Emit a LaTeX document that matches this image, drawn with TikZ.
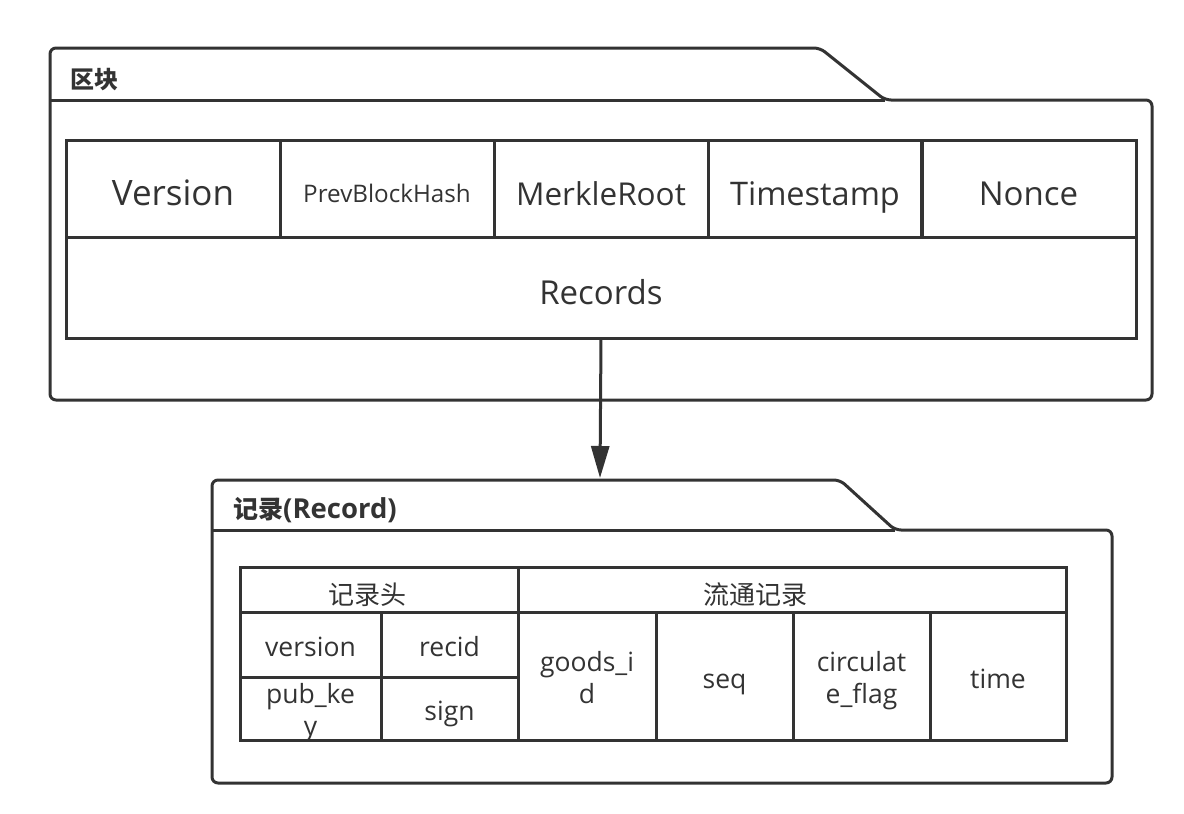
\documentclass[tikz,border=0pt]{standalone}
\usepackage{fontspec}
\setmainfont{Open Sans}
\newfontfamily\cjk{Noto Sans CJK SC}
\usetikzlibrary{arrows.meta}
\definecolor{ink}{HTML}{333333}
\begin{document}
\begin{tikzpicture}[x=1pt,y=-1pt,
  frame/.style={draw=ink, line width=3pt, line join=round, rounded corners=6pt},
  cell/.style={draw=ink, line width=3pt, inner sep=0pt, outer sep=0pt, anchor=north west, text=ink, align=center},
  big/.style={text height=36pt, text depth=2pt},
  small/.style={font=\fontsize{26.5}{32}\selectfont, text height=26pt, text depth=2pt},
  twoline/.style={font=\fontsize{26.5}{32}\selectfont, text height=56pt, text depth=2pt},
  headtxt/.style={font=\fontsize{26}{32}\selectfont\cjk, text height=31pt, text depth=2pt},
  ttl/.style={anchor=west, text=ink, inner sep=0pt, font=\bfseries},
  link/.style={draw=ink, line width=3pt, -{Triangle[length=32pt,width=18pt]}}]
\useasboundingbox (0,0) rectangle (1184,814);
% ---- block folder ----
\draw[frame] (50,400) -- (50,48) -- (820,48) -- (885,100) -- (1152,100) -- (1152,400) -- cycle;
\draw[draw=ink, line width=3pt] (50,100) -- (885,100);
\node[ttl] (blocklabel) at (70,80) {\fontsize{24}{28}\selectfont\cjk 区块};
\node[cell, big, minimum width=214pt, minimum height=97pt, font=\fontsize{35}{40}\selectfont] (ver) at (66,140) {Version};
\node[cell, minimum width=214pt, minimum height=97pt, font=\fontsize{24.2}{28}\selectfont, text height=29pt, text depth=2pt] (prev) at (280,140) {PrevBlockHash};
\node[cell, big, minimum width=214pt, minimum height=97pt, font=\fontsize{31.5}{40}\selectfont] (merkle) at (494,140) {MerkleRoot};
\node[cell, big, minimum width=214pt, minimum height=97pt, font=\fontsize{32.5}{40}\selectfont] (ts) at (708,140) {Timestamp};
\node[cell, big, minimum width=215pt, minimum height=97pt, font=\fontsize{33}{40}\selectfont] (nonce) at (921,140) {Nonce};
\node[cell, big, minimum width=1070pt, minimum height=101pt, font=\fontsize{33}{40}\selectfont] (records) at (66,237) {Records};
% ---- arrow ----
\coordinate (rectop) at (600,478);
\draw[link] (records.south) -- (rectop);
% ---- record folder ----
\draw[frame] (212,783) -- (212,480) -- (840,480) -- (895,530) -- (1112,530) -- (1112,783) -- cycle;
\draw[draw=ink, line width=3pt] (212,530) -- (895,530);
\node[ttl] (reclabel) at (233,510) {{\fontsize{25}{28}\selectfont\cjk 记录}{\fontsize{27.5}{30}\selectfont(Record)}};
\node[cell, headtxt, minimum width=278pt, minimum height=45pt] (head1) at (240,567) {\hspace*{-24pt}记录头};
\node[cell, headtxt, minimum width=548pt, minimum height=45pt] (head2) at (518,567) {\hspace*{-74pt}流通记录};
\node[cell, small, minimum width=141pt, minimum height=65pt] (version) at (240,612) {version};
\node[cell, small, minimum width=137pt, minimum height=65pt] (recid) at (381,612) {recid};
\node[cell, twoline, minimum width=141pt, minimum height=63pt] (pubkey) at (240,677) {pub\_ke\\y};
\node[cell, small, minimum width=137pt, minimum height=63pt] (sign) at (381,677) {sign};
\node[cell, twoline, minimum width=138pt, minimum height=128pt] (goods) at (518,612) {goods\_i\\d};
\node[cell, small, minimum width=137pt, minimum height=128pt] (seq) at (656,612) {seq};
\node[cell, twoline, minimum width=137pt, minimum height=128pt] (circ) at (793,612) {circulat\\e\_flag};
\node[cell, small, minimum width=136pt, minimum height=128pt] (time) at (930,612) {time};
\end{tikzpicture}
\end{document}
